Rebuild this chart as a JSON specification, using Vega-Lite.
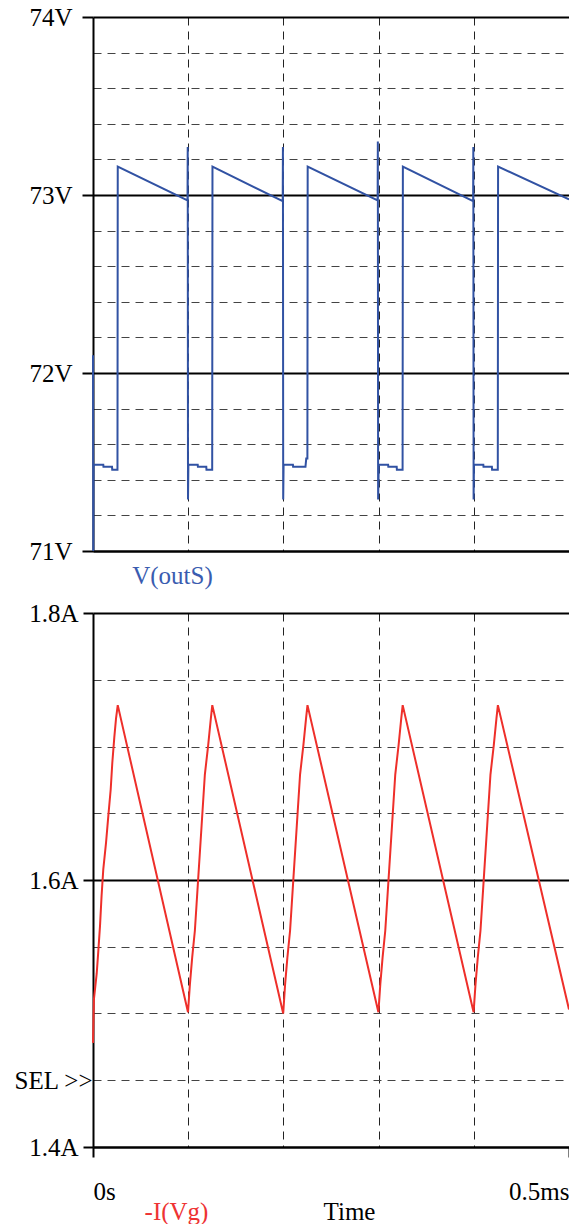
{
  "$schema": "https://vega.github.io/schema/vega-lite/v6.json",
  "padding": {"left": 13, "top": 5, "right": 0, "bottom": 0},
  "background": "white",
  "config": {
    "font": "Liberation Serif",
    "view": {"stroke": null},
    "axis": {
      "labelFont": "Liberation Serif",
      "labelFontSize": 25,
      "labelColor": "black",
      "labelOverlap": false,
      "labelBound": false,
      "titleFont": "Liberation Serif",
      "titleFontSize": 25,
      "titleFontWeight": "normal",
      "domainColor": "black",
      "domainWidth": 2,
      "tickColor": "black",
      "tickWidth": 2
    }
  },
  "datasets": {
    "vout": [
      {"t": 0, "v": 72.10},
      {"t": 0.0003, "v": 71.00},
      {"t": 0.0006, "v": 71.485},
      {"t": 0.0108, "v": 71.485},
      {"t": 0.0110, "v": 71.474},
      {"t": 0.0200, "v": 71.474},
      {"t": 0.0202, "v": 71.457},
      {"t": 0.0257, "v": 71.457},
      {"t": 0.0260, "v": 73.16},
      {"t": 0.0993, "v": 72.97},
      {"t": 0.0995, "v": 73.27},
      {"t": 0.0998, "v": 71.29},
      {"t": 0.1002, "v": 71.485},
      {"t": 0.1100, "v": 71.485},
      {"t": 0.1102, "v": 71.474},
      {"t": 0.1190, "v": 71.474},
      {"t": 0.1192, "v": 71.457},
      {"t": 0.1252, "v": 71.457},
      {"t": 0.1255, "v": 73.16},
      {"t": 0.1993, "v": 72.965},
      {"t": 0.1995, "v": 73.27},
      {"t": 0.1998, "v": 71.29},
      {"t": 0.2002, "v": 71.485},
      {"t": 0.2100, "v": 71.485},
      {"t": 0.2102, "v": 71.474},
      {"t": 0.2232, "v": 71.474},
      {"t": 0.2240, "v": 71.52},
      {"t": 0.2252, "v": 71.52},
      {"t": 0.2255, "v": 73.16},
      {"t": 0.2990, "v": 72.97},
      {"t": 0.2992, "v": 73.30},
      {"t": 0.2995, "v": 71.29},
      {"t": 0.3002, "v": 71.485},
      {"t": 0.3100, "v": 71.485},
      {"t": 0.3102, "v": 71.474},
      {"t": 0.3190, "v": 71.474},
      {"t": 0.3192, "v": 71.457},
      {"t": 0.3252, "v": 71.457},
      {"t": 0.3255, "v": 73.16},
      {"t": 0.3993, "v": 72.965},
      {"t": 0.3995, "v": 73.27},
      {"t": 0.3998, "v": 71.29},
      {"t": 0.4002, "v": 71.485},
      {"t": 0.4100, "v": 71.485},
      {"t": 0.4102, "v": 71.474},
      {"t": 0.4190, "v": 71.474},
      {"t": 0.4192, "v": 71.457},
      {"t": 0.4252, "v": 71.457},
      {"t": 0.4255, "v": 73.16},
      {"t": 0.5, "v": 72.975}
    ],
    "ivg": [
      {"t": 0, "i": 1.478},
      {"t": 0.0010, "i": 1.511},
      {"t": 0.0039, "i": 1.530},
      {"t": 0.0055, "i": 1.546},
      {"t": 0.0074, "i": 1.566},
      {"t": 0.0090, "i": 1.588},
      {"t": 0.0108, "i": 1.608},
      {"t": 0.0137, "i": 1.628},
      {"t": 0.0161, "i": 1.648},
      {"t": 0.0186, "i": 1.668},
      {"t": 0.0203, "i": 1.688},
      {"t": 0.0224, "i": 1.707},
      {"t": 0.0242, "i": 1.721},
      {"t": 0.0260, "i": 1.731},
      {"t": 0.0998, "i": 1.501},
      {"t": 0.1018, "i": 1.522},
      {"t": 0.1042, "i": 1.542},
      {"t": 0.1070, "i": 1.562},
      {"t": 0.1088, "i": 1.582},
      {"t": 0.1105, "i": 1.601},
      {"t": 0.1141, "i": 1.641},
      {"t": 0.1175, "i": 1.679},
      {"t": 0.1210, "i": 1.701},
      {"t": 0.1238, "i": 1.721},
      {"t": 0.1253, "i": 1.731},
      {"t": 0.1998, "i": 1.500},
      {"t": 0.2018, "i": 1.522},
      {"t": 0.2042, "i": 1.542},
      {"t": 0.2070, "i": 1.562},
      {"t": 0.2088, "i": 1.582},
      {"t": 0.2105, "i": 1.601},
      {"t": 0.2141, "i": 1.641},
      {"t": 0.2175, "i": 1.679},
      {"t": 0.2210, "i": 1.701},
      {"t": 0.2238, "i": 1.721},
      {"t": 0.2253, "i": 1.731},
      {"t": 0.2998, "i": 1.501},
      {"t": 0.3018, "i": 1.522},
      {"t": 0.3042, "i": 1.542},
      {"t": 0.3070, "i": 1.562},
      {"t": 0.3088, "i": 1.582},
      {"t": 0.3105, "i": 1.601},
      {"t": 0.3141, "i": 1.641},
      {"t": 0.3175, "i": 1.679},
      {"t": 0.3210, "i": 1.701},
      {"t": 0.3238, "i": 1.721},
      {"t": 0.3253, "i": 1.731},
      {"t": 0.3998, "i": 1.501},
      {"t": 0.4018, "i": 1.522},
      {"t": 0.4042, "i": 1.542},
      {"t": 0.4070, "i": 1.562},
      {"t": 0.4088, "i": 1.582},
      {"t": 0.4105, "i": 1.601},
      {"t": 0.4141, "i": 1.641},
      {"t": 0.4175, "i": 1.679},
      {"t": 0.4210, "i": 1.701},
      {"t": 0.4238, "i": 1.721},
      {"t": 0.4253, "i": 1.731},
      {"t": 0.5, "i": 1.503}
    ]
  },
  "bounds": "flush",
  "spacing": 62,
  "vconcat": [
    {
      "width": 476,
      "height": 534,
      "data": {"name": "vout"},
      "mark": {"type": "line", "color": "#3152a3", "strokeWidth": 2},
      "encoding": {
        "x": {
          "field": "t", "type": "quantitative",
          "scale": {"domain": [0, 0.5], "nice": false, "zero": false},
          "axis": {
            "values": [0, 0.1, 0.2, 0.3, 0.4, 0.5],
            "labels": false,
            "ticks": false,
            "grid": true,
            "gridColor": "#222",
            "gridWidth": 1,
            "gridDash": [8, 6],
            "gridOpacity": {"condition": {"test": "datum.value == 0 || datum.value == 0.5", "value": 0}, "value": 1},
            "title": "V(outS)",
            "titleFont": "Liberation Serif",
            "titleColor": "#3a5cb0",
            "titleX": 79,
            "titleY": 32,
            "titleAlign": "center",
            "titleBaseline": "alphabetic"
          }
        },
        "y": {
          "field": "v", "type": "quantitative",
          "scale": {"domain": [71, 74], "nice": false, "zero": false},
          "axis": {
            "values": [71, 71.2, 71.4, 71.6, 71.8, 72, 72.2, 72.4, 72.6, 72.8, 73, 73.2, 73.4, 73.6, 73.8, 74],
            "labelExpr": "indexof([71, 72, 73, 74], datum.value) >= 0 ? datum.value + 'V' : ''",
            "labelFont": "Liberation Serif",
            "tickSize": 11,
            "labelPadding": 10,
            "tickOpacity": {"condition": {"test": "indexof([71, 72, 73, 74], datum.value) >= 0", "value": 1}, "value": 0},
            "grid": true,
            "gridColor": {"condition": {"test": "indexof([71, 72, 73, 74], datum.value) >= 0", "value": "black"}, "value": "#444"},
            "gridWidth": {"condition": {"test": "indexof([71, 72, 73, 74], datum.value) >= 0", "value": 2}, "value": 1},
            "gridDash": {"condition": {"test": "indexof([71, 72, 73, 74], datum.value) >= 0", "value": []}, "value": [8, 6]},
            "title": null
          }
        }
      }
    },
    {
      "width": 476,
      "height": 534,
      "data": {"name": "ivg"},
      "mark": {"type": "line", "color": "#ee2f2a", "strokeWidth": 2},
      "encoding": {
        "x": {
          "field": "t", "type": "quantitative",
          "scale": {"domain": [0, 0.5], "nice": false, "zero": false},
          "axis": {
            "values": [0, 0.1, 0.2, 0.3, 0.4, 0.5],
            "labelExpr": "datum.value == 0 ? '0s' : (datum.value == 0.5 ? '0.5ms' : '')",
            "labelFont": "Liberation Serif",
            "labelFlush": true,
            "labelBaseline": "alphabetic",
            "tickSize": 10,
            "labelPadding": 42,
            "tickOpacity": {"condition": {"test": "datum.value == 0 || datum.value == 0.5", "value": 1}, "value": 0},
            "grid": true,
            "gridColor": "#222",
            "gridWidth": 1,
            "gridDash": [8, 6],
            "gridOpacity": {"condition": {"test": "datum.value == 0 || datum.value == 0.5", "value": 0}, "value": 1},
            "title": "Time",
            "titleFont": "Liberation Serif",
            "titleColor": "black",
            "titleX": 256,
            "titleY": 72,
            "titleAlign": "center",
            "titleBaseline": "alphabetic"
          }
        },
        "y": {
          "field": "i", "type": "quantitative",
          "scale": {"domain": [1.4, 1.8], "nice": false, "zero": false},
          "axis": {
            "values": [1.4, 1.45, 1.5, 1.55, 1.6, 1.65, 1.7, 1.75, 1.8],
            "labelExpr": "datum.value == 1.45 ? 'SEL >>' : (indexof([1.4, 1.6, 1.8], datum.value) >= 0 ? format(datum.value, '.1f') + 'A' : '')",
            "labelFont": "Liberation Serif",
            "tickSize": 10,
            "labelPadding": {"condition": {"test": "datum.value == 1.45", "value": -9}, "value": 5},
            "tickOpacity": {"condition": {"test": "indexof([1.4, 1.6, 1.8], datum.value) >= 0", "value": 1}, "value": 0},
            "grid": true,
            "gridColor": {"condition": {"test": "indexof([1.4, 1.6, 1.8], datum.value) >= 0", "value": "black"}, "value": "#444"},
            "gridWidth": {"condition": {"test": "indexof([1.4, 1.6, 1.8], datum.value) >= 0", "value": 2}, "value": 1},
            "gridDash": {"condition": {"test": "indexof([1.4, 1.6, 1.8], datum.value) >= 0", "value": []}, "value": [8, 6]},
            "title": "-I(Vg)",
            "titleFont": "Liberation Serif",
            "titleColor": "#ee3333",
            "titleAngle": 0,
            "titleX": 83,
            "titleY": 606,
            "titleAlign": "center",
            "titleBaseline": "alphabetic"
          }
        }
      }
    }
  ]
}
